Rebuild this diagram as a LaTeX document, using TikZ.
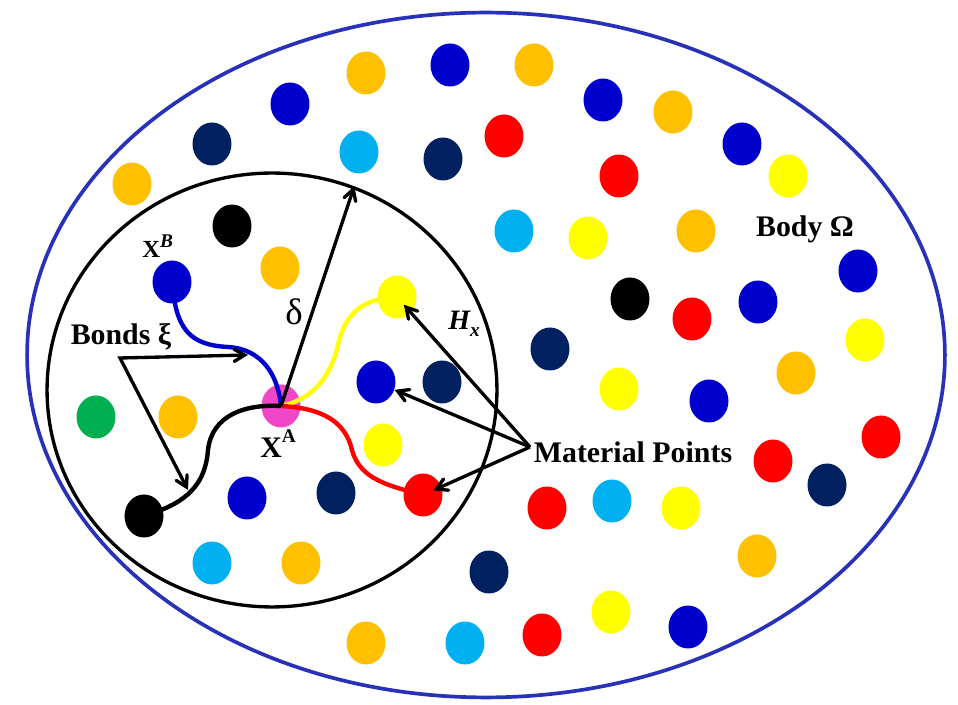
\documentclass[tikz,border=0pt]{standalone}
\usepackage{fontspec}
\setmainfont{Liberation Serif}
\usetikzlibrary{arrows,calc,positioning,shapes.geometric}

\definecolor{orng}{RGB}{255,192,0}
\definecolor{blu}{RGB}{0,0,204}
\definecolor{navy}{RGB}{0,32,96}
\definecolor{cyn}{RGB}{0,176,240}
\definecolor{rd}{RGB}{255,0,0}
\definecolor{ylw}{RGB}{255,255,0}
\definecolor{grn}{RGB}{0,176,80}
\definecolor{mgt}{RGB}{240,70,200}
\definecolor{bodyblue}{RGB}{40,50,185}

\tikzset{
  pt/.style={ellipse, minimum width=0.78cm, minimum height=0.86cm, inner sep=0pt},
  arr/.style={->, >=angle 60, line width=1.9pt},
  bond/.style={line width=2.5pt},
  lbl/.style={font=\fontsize{17}{20}\selectfont\bfseries, inner sep=0pt},
}

\begin{document}
\begin{tikzpicture}[x=0.02cm, y=-0.02cm]

\useasboundingbox (0,0) rectangle (958,705);

% body and horizon
\node[ellipse, draw=bodyblue, line width=2.1pt, minimum width=18.36cm, minimum height=13.7cm, inner sep=0pt] (body) at (486,355) {};
\node[ellipse, draw, line width=1.9pt, minimum width=9cm, minimum height=8.68cm, inner sep=0pt] (hor) at (272,390) {};

% material points
\node[pt, fill=orng] (or1) at (366,73) {};
\node[pt, fill=orng] (or2) at (534,65) {};
\node[pt, fill=orng] (or3) at (673,112) {};
\node[pt, fill=orng] (or4) at (132,184) {};
\node[pt, fill=orng] (or5) at (280,268) {};
\node[pt, fill=orng] (or6) at (696,231) {};
\node[pt, fill=orng] (or7) at (796,373) {};
\node[pt, fill=orng] (or8) at (178,417) {};
\node[pt, fill=orng] (or9) at (301,563) {};
\node[pt, fill=orng] (or10) at (757,556) {};
\node[pt, fill=orng] (or11) at (366,643) {};

\node[pt, fill=blu] (bl1) at (450,65) {};
\node[pt, fill=blu] (bl2) at (290,104) {};
\node[pt, fill=blu] (bl3) at (603,100) {};
\node[pt, fill=blu] (bl4) at (742,144) {};
\node[pt, fill=blu] (xb) at (172,282) {};
\node[pt, fill=blu] (bl5) at (858,271) {};
\node[pt, fill=blu] (bl6) at (758,302) {};
\node[pt, fill=blu] (bl7) at (376,382) {};
\node[pt, fill=blu] (bl8) at (709,401) {};
\node[pt, fill=blu] (bl9) at (247,498) {};
\node[pt, fill=blu] (bl10) at (688,627) {};

\node[pt, fill=navy] (nv1) at (212,144) {};
\node[pt, fill=navy] (nv2) at (443,159) {};
\node[pt, fill=navy] (nv3) at (550,349) {};
\node[pt, fill=navy] (nv4) at (442,382) {};
\node[pt, fill=navy] (nv5) at (827,485) {};
\node[pt, fill=navy] (nv6) at (336,493) {};
\node[pt, fill=navy] (nv7) at (489,572) {};

\node[pt, fill=cyn] (cy1) at (359,152) {};
\node[pt, fill=cyn] (cy2) at (514,231) {};
\node[pt, fill=cyn] (cy3) at (212,563) {};
\node[pt, fill=cyn] (cy4) at (612,501) {};
\node[pt, fill=cyn] (cy5) at (465,643) {};

\node[pt, fill=rd] (rd1) at (504,136) {};
\node[pt, fill=rd] (rd2) at (619,176) {};
\node[pt, fill=rd] (rd3) at (692,319) {};
\node[pt, fill=rd] (rd4) at (881,437) {};
\node[pt, fill=rd] (rd5) at (773,461) {};
\node[pt, fill=rd] (rd6) at (423,495) {};
\node[pt, fill=rd] (rd7) at (547,508) {};
\node[pt, fill=rd] (rd8) at (542,635) {};

\node[pt, fill=ylw] (yl1) at (788,176) {};
\node[pt, fill=ylw] (yl2) at (588,238) {};
\node[pt, fill=ylw] (yl3) at (397,297) {};
\node[pt, fill=ylw] (yl4) at (865,340) {};
\node[pt, fill=ylw] (yl5) at (619,389) {};
\node[pt, fill=ylw] (yl6) at (383,445) {};
\node[pt, fill=ylw] (yl7) at (681,508) {};
\node[pt, fill=ylw] (yl8) at (611,612) {};

\node[pt, fill=black] (bk1) at (232,226) {};
\node[pt, fill=black] (bk2) at (630,299) {};
\node[pt, fill=black] (bk3) at (144,516) {};

\node[pt, fill=grn] (gr1) at (96,417) {};
\node[pt, fill=mgt] (xa) at (281,406) {};

% bonds
\draw[bond, blu] (xb.center) .. controls (176,330) and (190,345) .. (228,347) .. controls (262,349) and (278,375) .. (xa.center);
\draw[bond, ylw] (xa.center) .. controls (310,400) and (330,380) .. (338,345) .. controls (345,312) and (365,298) .. (yl3.center);
\draw[bond, rd] (xa.center) .. controls (320,408) and (345,420) .. (352,450) .. controls (360,480) and (390,486) .. (rd6.center);
\draw[bond, black] (xa.center) .. controls (245,404) and (212,415) .. (208,450) .. controls (205,490) and (180,505) .. (bk3.center);

% horizon radius
\draw[arr] (xa.center) -- (hor.68);

% bonds arrows
\coordinate (bv) at (120,358);
\coordinate (bt1) at (248,355);
\coordinate (bt2) at (188,490);
\draw[arr, <->] (bt1) -- (bv) -- (bt2);

% material points arrows
\coordinate (mv) at (530,447);
\draw[arr, shorten >=-6pt] (mv) -- (yl3);
\draw[arr] (mv) -- (bl7);
\draw[arr, shorten >=-5pt] (mv) -- (rd6);

% labels
\node[lbl, anchor=base] (bonds) at (121,345) {Bonds ξ};
\node[lbl, anchor=base] (bodylbl) at (805,237) {Body Ω};
\node[lbl, anchor=base] (matlbl) at (633,463) {Material Points};
\node[lbl, anchor=base west, font=\fontsize{14}{16}\selectfont\bfseries] (lxb) at (142,258) {X\raisebox{0.9ex}{\fontsize{11}{11}\selectfont\itshape B}};
\node[lbl, anchor=base west] (lxa) at (260,458) {X\raisebox{1.1ex}{\fontsize{11}{11}\selectfont A}};
\node[lbl, anchor=base, font=\fontsize{21}{24}\selectfont] (ldelta) at (294,325) {δ};
\node[lbl, anchor=base west, font=\fontsize{16}{18}\selectfont\bfseries\itshape] (lhx) at (448,330) {H\raisebox{-0.5ex}{\fontsize{11}{11}\selectfont x}};

\end{tikzpicture}
\end{document}
